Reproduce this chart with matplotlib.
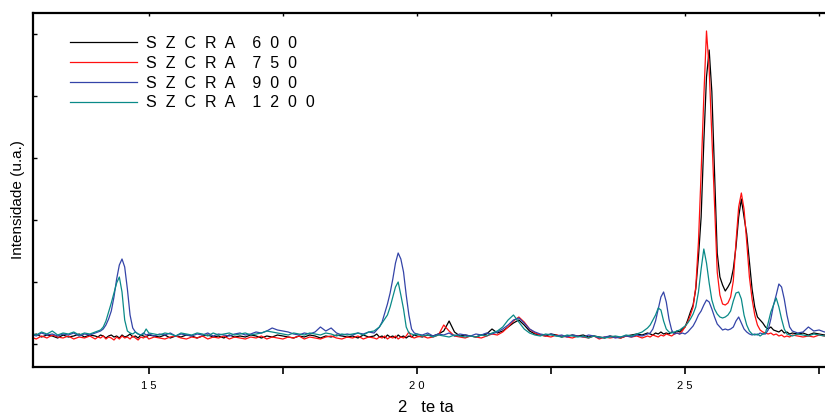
import matplotlib
matplotlib.use("Agg")
import matplotlib.pyplot as plt
from matplotlib.ticker import FixedLocator

plt.rcParams['font.family'] = ['Liberation Sans', 'DejaVu Sans']

# 2-theta sampling (degrees)
two_theta = [
    12.8, 12.9, 13.0, 13.1, 13.2, 13.3, 13.4, 13.5, 13.6, 13.7,
    13.8, 13.9, 14.0, 14.05, 14.1, 14.15, 14.2, 14.25, 14.3, 14.35,
    14.4, 14.45, 14.5, 14.55, 14.6, 14.65, 14.7, 14.75, 14.8, 14.85,
    14.9, 14.95, 15.0, 15.1, 15.2, 15.3, 15.4, 15.5, 15.6, 15.7,
    15.8, 15.9, 16.0, 16.1, 16.2, 16.3, 16.4, 16.5, 16.6, 16.7,
    16.8, 16.9, 17.0, 17.1, 17.2, 17.3, 17.4, 17.5, 17.6, 17.7,
    17.8, 17.9, 18.0, 18.1, 18.2, 18.3, 18.4, 18.5, 18.6, 18.7,
    18.8, 18.9, 19.0, 19.1, 19.2, 19.25, 19.3, 19.35, 19.4, 19.45,
    19.5, 19.55, 19.6, 19.65, 19.7, 19.75, 19.8, 19.85, 19.9, 19.95,
    20.0, 20.1, 20.2, 20.3, 20.4, 20.5, 20.6, 20.7, 20.8, 20.9,
    21.0, 21.1, 21.2, 21.3, 21.4, 21.5, 21.6, 21.7, 21.8, 21.9,
    22.0, 22.1, 22.2, 22.3, 22.4, 22.5, 22.6, 22.7, 22.8, 22.9,
    23.0, 23.1, 23.2, 23.3, 23.4, 23.5, 23.6, 23.7, 23.8, 23.9,
    24.0, 24.1, 24.2, 24.3, 24.35, 24.4, 24.45, 24.5, 24.55, 24.6,
    24.65, 24.7, 24.75, 24.8, 24.85, 24.9, 24.95, 25.0, 25.05, 25.1,
    25.15, 25.2, 25.25, 25.3, 25.35, 25.4, 25.45, 25.5, 25.55, 25.6,
    25.65, 25.7, 25.75, 25.8, 25.85, 25.9, 25.95, 26.0, 26.05, 26.1,
    26.15, 26.2, 26.25, 26.3, 26.35, 26.4, 26.45, 26.5, 26.55, 26.6,
    26.65, 26.7, 26.75, 26.8, 26.85, 26.9, 26.95, 27.0, 27.1, 27.2,
    27.3, 27.4, 27.5, 27.6, 27.7,
]

szcra_600 = [
    31, 33, 30, 32, 31, 29, 32, 30, 31, 33,
    30, 32, 31, 30, 32, 31, 29, 31, 32, 30,
    31, 29, 32, 30, 31, 33, 30, 31, 29, 32,
    31, 30, 32, 31, 30, 32, 29, 31, 30, 32,
    31, 29, 31, 32, 30, 31, 29, 32, 30, 31,
    30, 32, 31, 29, 31, 30, 32, 31, 30, 29,
    31, 30, 32, 31, 29, 31, 30, 32, 31, 30,
    31, 29, 32, 30, 31, 33, 30, 31, 29, 32,
    30, 31, 29, 32, 30, 31, 29, 31, 30, 32,
    31, 30, 32, 31, 33, 36, 46, 35, 31, 32,
    31, 30, 32, 33, 38, 34, 36, 40, 44, 47,
    42, 36, 33, 32, 31, 33, 32, 30, 31, 32,
    31, 32, 30, 31, 30, 29, 31, 30, 29, 31,
    32, 33, 32, 34, 33, 32, 34, 33, 35, 33,
    34, 33, 35, 34, 36, 35, 38, 40, 47, 55,
    62, 78, 110, 150, 225, 290, 317, 275, 195, 114,
    90, 82, 76, 80, 85, 98, 120, 150, 168, 150,
    133, 105, 78, 60, 50, 47, 44, 40, 38, 40,
    37, 36, 35, 37, 34, 35, 33, 34, 33, 34,
    32, 34, 33, 32, 33,
]

szcra_750 = [
    30, 28, 31, 29, 32, 30, 29, 31, 28, 30,
    29, 31, 28, 30, 29, 31, 28, 30, 29, 27,
    30, 28, 31, 29, 30, 28, 31, 29, 27, 30,
    29, 31, 28, 30, 29, 28, 30, 31, 29, 28,
    30, 29, 31, 28, 30, 29, 31, 28, 30, 29,
    28, 30, 29, 31, 28, 30, 29, 28, 30, 29,
    31, 28, 30, 29, 28, 30, 31, 29, 28, 30,
    29, 31, 28, 30, 29, 28, 30, 29, 31, 28,
    30, 29, 31, 28, 30, 29, 31, 35, 30, 29,
    30, 31, 29, 30, 32, 42, 36, 31, 30, 29,
    31, 30, 29, 31, 33, 32, 35, 40, 46, 50,
    45, 38, 34, 32, 31, 30, 32, 31, 30, 29,
    31, 30, 29, 31, 28, 30, 29, 30, 29, 31,
    30, 31, 29, 31, 30, 32, 31, 30, 32, 31,
    33, 32, 31, 33, 34, 33, 36, 40, 45, 52,
    60, 80, 125, 195, 270, 336, 298, 230, 160, 95,
    72, 63, 62, 64, 70, 86, 125, 160, 174, 158,
    125, 90, 68, 52, 42, 37, 35, 34, 33, 34,
    32, 33, 31, 32, 30, 31, 30, 32, 31, 30,
    31, 30, 32, 31, 30,
]

szcra_900 = [
    33, 31, 34, 32, 33, 31, 33, 32, 34, 31,
    33, 32, 34, 35, 36, 38, 42, 48, 56, 70,
    88, 102, 108, 100, 78, 52, 39, 35, 33, 32,
    34, 32, 33, 31, 33, 32, 34, 31, 33, 32,
    31, 33, 32, 34, 31, 33, 32, 31, 33, 34,
    32, 33, 35, 34, 36, 39, 37, 36, 35, 33,
    32, 34, 33, 35, 40, 36, 39, 34, 32, 33,
    32, 34, 33, 35, 34, 37, 40, 45, 54, 63,
    74, 88, 104, 114, 108, 95, 72, 52, 38, 34,
    33, 32, 34, 31, 33, 32, 34, 31, 33, 32,
    31, 33, 32, 34, 33, 35, 38, 42, 47, 49,
    44, 38, 35, 33, 32, 33, 31, 32, 30, 32,
    31, 30, 32, 31, 29, 30, 31, 29, 30, 31,
    30, 32, 31, 33, 34, 38, 46, 58, 70, 75,
    65, 48, 37, 33, 34, 33, 34, 33, 35, 38,
    41, 46, 52, 56, 62, 67, 65, 58, 50, 43,
    40, 37, 38, 37, 38, 40, 46, 50, 44, 38,
    35, 33, 32, 33, 32, 34, 33, 33, 37, 48,
    62, 72, 83, 80, 68, 52, 40, 36, 34, 35,
    40, 36, 37, 35, 36,
]

szcra_1200 = [
    34, 32, 35, 33, 36, 32, 34, 33, 35, 32,
    34, 33, 35, 36, 37, 40, 46, 55, 64, 74,
    84, 90, 75, 47, 36, 34, 33, 35, 33, 32,
    33, 38, 34, 33, 32, 34, 33, 31, 34, 33,
    32, 34, 33, 31, 34, 32, 33, 34, 32, 33,
    34, 32, 33, 34, 36, 35, 34, 33, 32, 34,
    33, 32, 34, 33, 32, 34, 33, 31, 33, 32,
    33, 34, 32, 35, 36, 38, 40, 44, 48, 52,
    60, 70, 80, 85, 72, 58, 40, 34, 33, 32,
    33, 31, 32, 30, 32, 31, 30, 32, 31, 30,
    31, 30, 32, 31, 34, 36, 40, 47, 52, 45,
    38, 34, 32, 31, 33, 32, 31, 30, 32, 31,
    30, 31, 29, 31, 30, 29, 30, 31, 30, 32,
    31, 33, 35, 39, 42, 47, 52, 59, 57, 46,
    38, 35, 34, 35, 36, 37, 39, 41, 44, 48,
    53, 60, 75, 98, 118, 104, 84, 67, 58, 53,
    50, 49, 50, 52, 56, 66, 74, 75, 68, 52,
    42, 36, 33, 32, 33, 31, 33, 34, 44, 55,
    62, 69, 60, 48, 38, 33, 32, 31, 33, 32,
    31, 33, 32, 31, 33,
]

series_labels = ["S  Z  C  R  A    6  0  0", "S  Z  C  R  A    7  5  0",
                 "S  Z  C  R  A    9  0  0", "S  Z  C  R  A    1  2  0  0"]
series_colors = ["#000000", "#ff1010", "#3444a8", "#0a8a88"]
x_major = [15, 20, 25]
x_major_labels = ["1 5", "2 0", "2 5"]
x_minor = [17.5, 22.5, 27.5]

W, H = 825, 417
fig = plt.figure(figsize=(W / 100, H / 100), dpi=100)
ax_l, ax_r, ax_b, ax_t = 33, 825, 367, 13
ax = fig.add_axes([ax_l / W, (H - ax_b) / H, (ax_r - ax_l) / W, (ax_b - ax_t) / H])

for ys, lab, col in zip([szcra_600, szcra_750, szcra_900, szcra_1200], series_labels, series_colors):
    ax.plot(two_theta, ys, color=col, lw=0.9, label=lab)

ax.set_xlim(12.84, 27.61)
ax.set_ylim(0, 354)

ax.spines['right'].set_visible(False)
for s in ['left', 'bottom', 'top']:
    ax.spines[s].set_linewidth(1.6)

ax.xaxis.set_major_locator(FixedLocator(x_major))
ax.set_xticklabels(x_major_labels, fontsize=8)
ax.xaxis.set_minor_locator(FixedLocator(x_minor))
ax.tick_params(axis='x', which='both', direction='out', length=5, width=1.2, pad=5,
               top=False, bottom=True)
ax.set_yticks([23, 85, 147, 209, 271, 333])
ax.set_yticklabels([])
ax.tick_params(axis='y', which='major', direction='in', length=3, width=1.0, left=True, right=False)

# tiny top ticks
sec = ax.secondary_xaxis('top')
sec.set_xticks(x_major + x_minor)
sec.set_xticklabels([])
sec.tick_params(direction='in', length=2, width=1.0)
sec.spines['top'].set_visible(False)

fig.text(398 / W, 1 - 407 / H, "2   te ta", ha='left', va='center', fontsize=12)
fig.text(18 / W, 1 - 200 / H, "Intensidade (u.a.)", rotation=90, ha='center', va='center', fontsize=11)

leg = ax.legend(loc='upper left', bbox_to_anchor=((70 - ax_l) / (ax_r - ax_l), (ax_b - 36) / (ax_b - ax_t)),
                frameon=False, fontsize=11.5, handlelength=4.2, handletextpad=0.56,
                labelspacing=0.3, borderpad=0, borderaxespad=0)

fig.savefig("out.png", dpi=100)
